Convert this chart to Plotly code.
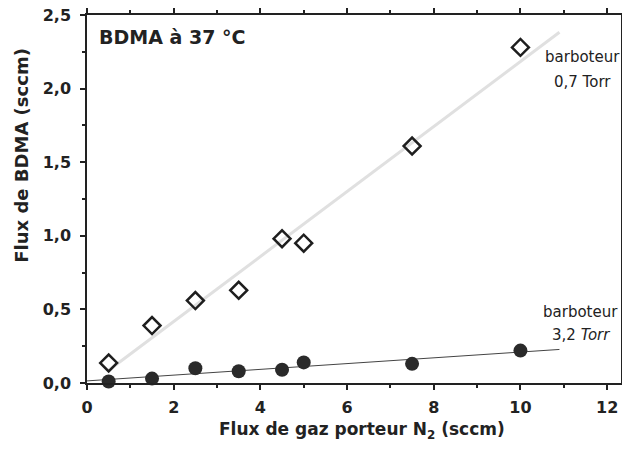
import numpy as np
import plotly.graph_objects as go

# carrier gas flow N2 (sccm)
flux_n2 = [0.5, 1.5, 2.5, 3.5, 4.5, 5.0, 7.5, 10.0]
# BDMA flux, bubbler at 0.7 Torr (open diamonds)
bdma_07 = [0.136, 0.39, 0.56, 0.63, 0.98, 0.95, 1.61, 2.28]
# BDMA flux, bubbler at 3.2 Torr (filled circles)
bdma_32 = [0.01, 0.03, 0.10, 0.08, 0.09, 0.14, 0.13, 0.22]

x_ticks = [0, 2, 4, 6, 8, 10, 12]
y_ticks = [0.0, 0.5, 1.0, 1.5, 2.0, 2.5]

# linear fits
p07 = np.polyfit(flux_n2, bdma_07, 1)
p32 = np.polyfit(flux_n2, bdma_32, 1)
fx07 = np.array([0.5, 10.9])
fx32 = np.array([0.0, 10.9])

font = "DejaVu Sans"
ink = "#222222"

fig = go.Figure()
fig.add_trace(go.Scatter(x=fx07, y=np.polyval(p07, fx07), mode="lines",
                         line=dict(color="#e0e0e0", width=3), showlegend=False, hoverinfo="skip"))
fig.add_trace(go.Scatter(x=fx32, y=np.polyval(p32, fx32), mode="lines",
                         line=dict(color="#444444", width=1), showlegend=False, hoverinfo="skip"))
fig.add_trace(go.Scatter(x=flux_n2, y=bdma_07, mode="markers", name="0,7 Torr",
                         marker=dict(symbol="diamond-open", size=13, color="#1e1e1e",
                                     line=dict(width=2.5, color="#1e1e1e")),
                         showlegend=False, cliponaxis=False))
fig.add_trace(go.Scatter(x=flux_n2, y=bdma_32, mode="markers", name="3,2 Torr",
                         marker=dict(symbol="circle", size=14, color="#2a2a2a"),
                         showlegend=False, cliponaxis=False))

def note(text, x, y, size, bold=False, **kw):
    fig.add_annotation(x=x, y=y, xref="paper", yref="paper", showarrow=False,
                       text=f"<b>{text}</b>" if bold else text,
                       font=dict(family=font, size=size, color=ink), **kw)

note("BDMA à 37 °C", 0.018, 0.94, 19, bold=True, xanchor="left", yanchor="middle")
note("barboteur", 0.927, 0.886, 15, xanchor="center", yanchor="middle")
note("0,7 Torr", 0.927, 0.818, 15, xanchor="center", yanchor="middle")
note("barboteur", 0.925, 0.193, 15, xanchor="center", yanchor="middle")
note("3,2 <i>Torr</i>", 0.925, 0.130, 15, xanchor="center", yanchor="middle")
# axis titles
note("Flux de gaz porteur N<sub>2</sub> (sccm)", 0.515, -0.128, 17, bold=True,
     xanchor="center", yanchor="middle")
note("Flux de BDMA (sccm)", -0.122, 0.62, 18, bold=True, textangle=-90,
     xanchor="center", yanchor="middle")

axis_common = dict(showline=True, linecolor=ink, linewidth=1.5, mirror="ticks",
                   ticks="outside", ticklen=5, tickwidth=1.5, tickcolor=ink,
                   showgrid=False, zeroline=False, automargin=False,
                   ticklabeloverflow="allow",
                   tickfont=dict(family=font, size=16, color=ink, weight="bold"))

fig.update_xaxes(range=[0, 12.32], tickvals=x_ticks, ticklabelstandoff=4,
                 minor=dict(dtick=1, ticklen=3, tickcolor=ink, ticks="outside"),
                 **axis_common)
fig.update_yaxes(range=[0, 2.5], tickvals=y_ticks, tickformat=".1f", ticklabelstandoff=6,
                 minor=dict(dtick=0.25, ticklen=3, tickcolor=ink, ticks="outside"),
                 **axis_common)

fig.update_layout(width=622, height=453, margin=dict(l=87, r=1, t=15, b=70, autoexpand=False),
                  plot_bgcolor="white", paper_bgcolor="white", separators=", ",
                  showlegend=False)

# drop the default 8px body margin so the figure fills the window exactly
fig.write_html("out.html", config={"displayModeBar": False},
               post_script="document.body.style.margin='0';document.body.style.overflow='hidden';")
